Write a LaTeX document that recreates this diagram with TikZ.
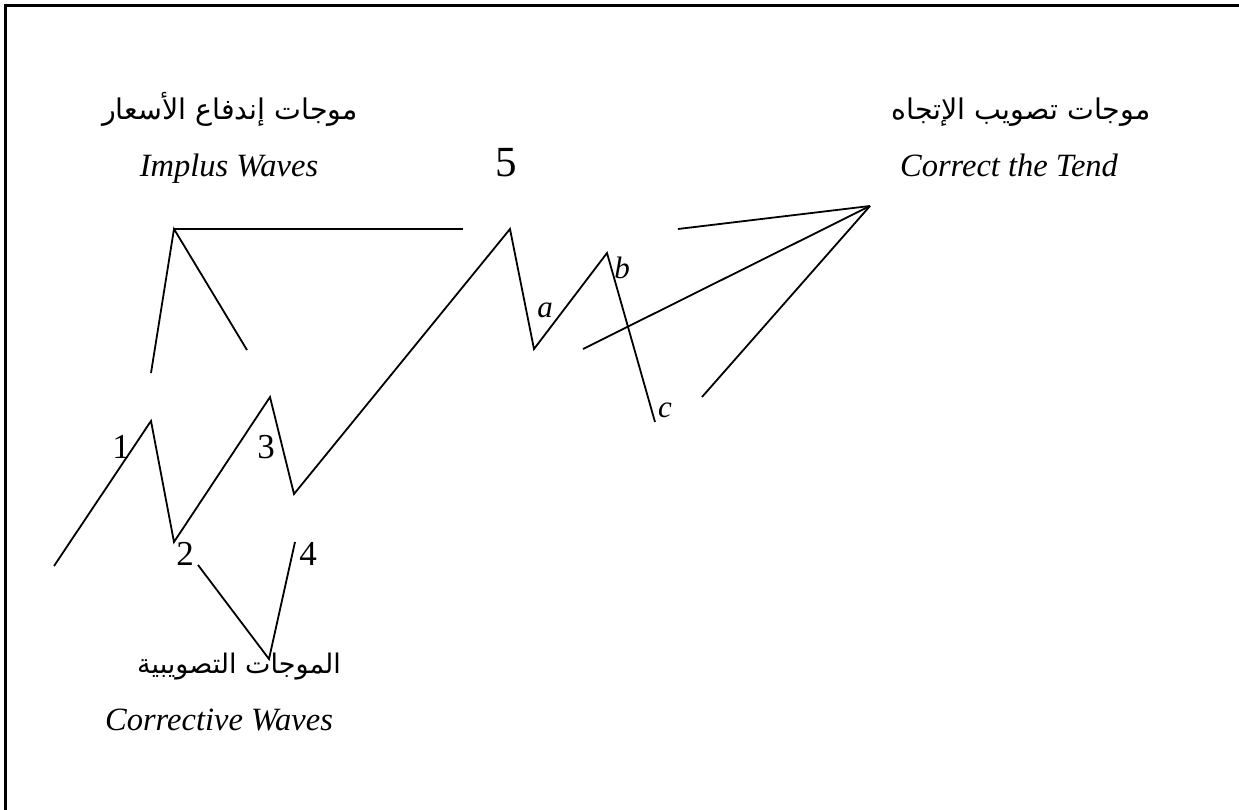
\documentclass[tikz,border=0pt]{standalone}
\usepackage{fontspec}
\setmainfont{Liberation Serif}
\newfontfamily\arabicfont[Script=Arabic]{DejaVu Sans}
\TeXXeTstate=1
\begin{document}
\begin{tikzpicture}[x=1pt,y=-1pt,
  wave/.style={line width=1.8pt,line join=miter},
  frameline/.style={line width=2.8pt},
  num/.style={inner sep=0pt,anchor=base,font=\fontsize{35}{40}\selectfont},
  letter/.style={inner sep=0pt,anchor=base,font=\fontsize{31}{36}\selectfont\itshape},
  entext/.style={inner sep=0pt,anchor=base,font=\fontsize{32.5}{38}\selectfont\itshape},
  artext/.style={inner sep=0pt,anchor=base,font=\fontsize{28.5}{34}\selectfont\arabicfont}]
\useasboundingbox (0,0) rectangle (1239,810);
% frame (only top and left visible)
\coordinate (fbl) at (5.5,810);
\coordinate (ftl) at (5.5,5.5);
\coordinate (ftr) at (1239,5.5);
\draw[frameline] (fbl) -- (ftl) -- (ftr);
% main wave points
\coordinate (w0) at (54,566);
\coordinate (w1) at (151,421);
\coordinate (w2) at (174,542);
\coordinate (w3) at (270,397);
\coordinate (w4) at (294,494);
\coordinate (w5) at (510,229);
\coordinate (wa) at (534,349);
\coordinate (wb) at (607,253);
\coordinate (wc) at (655,422);
\draw[wave] (w0) -- (w1) -- (w2) -- (w3) -- (w4) -- (w5) -- (wa) -- (wb) -- (wc);
% impulse bracket
\coordinate (iv) at (174,229);
\coordinate (il) at (151,373);
\coordinate (ir) at (247,350);
\coordinate (ih) at (463,229);
\draw[wave] (il) -- (iv) -- (ir);
\draw[wave] (iv) -- (ih);
% corrective bracket
\coordinate (cv) at (269,659);
\coordinate (cl) at (198,565);
\coordinate (cr) at (295,542);
\draw[wave] (cl) -- (cv) -- (cr);
% correct-the-trend bracket
\coordinate (tv) at (870,206);
\coordinate (t1) at (678,229);
\coordinate (t2) at (583,349);
\coordinate (t3) at (702,397);
\draw[wave] (t1) -- (tv);
\draw[wave] (t2) -- (tv);
\draw[wave] (t3) -- (tv);
% labels
\node[num] (n1) at (121,458) {1};
\node[num] (n2) at (185,565) {2};
\node[num] (n3) at (266,458) {3};
\node[num] (n4) at (308,565) {4};
\node[num,font=\fontsize{43}{50}\selectfont] (n5) at (506,177) {5};
\node[letter] (la) at (545,317) {a};
\node[letter] (lb) at (622,279) {b};
\node[letter] (lc) at (665,417) {c};
% titles
\node[artext] (ar1) at (230,120) {\beginR موجات إندفاع الأسعار\endR};
\node[entext] (en1) at (229,177) {Implus Waves};
\node[artext] (ar2) at (1021,120) {\beginR موجات تصويب الإتجاه\endR};
\node[entext] (en2) at (1009,177) {Correct the Tend};
\node[artext,font=\fontsize{27}{32}\selectfont\arabicfont] (ar3) at (239,673) {\beginR الموجات التصويبية\endR};
\node[entext] (en3) at (219,730) {Corrective Waves};
\end{tikzpicture}
\end{document}
